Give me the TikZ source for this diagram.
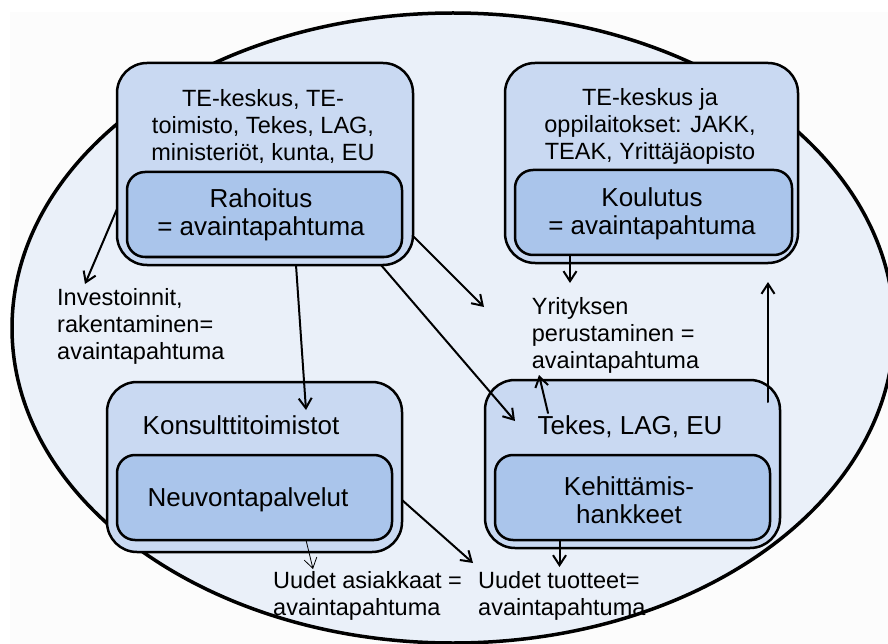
\documentclass[tikz,border=0pt]{standalone}
\usepackage{fontspec}
\setmainfont{Liberation Sans}
\usetikzlibrary{arrows.meta}
\definecolor{tausta}{RGB}{252,252,252}
\definecolor{soikio}{RGB}{234,240,249}
\definecolor{ulko}{RGB}{201,217,242}
\definecolor{sisa}{RGB}{170,197,235}
\begin{document}
\begin{tikzpicture}[x=1pt,y=-1pt,>={Straight Barb[length=10pt,width=13pt]},line join=round,line cap=round,
	ulkolaatikko/.style={draw,line width=2.5pt,fill=ulko,rounded corners=30pt,inner sep=0pt,outer sep=0pt},
	sisalaatikko/.style={draw,line width=2.5pt,fill=sisa,rounded corners=18pt,inner sep=0pt,outer sep=0pt},
	pieni/.style={font=\fontsize{23.5}{27}\selectfont,inner sep=0pt},
	iso/.style={font=\fontsize{26}{28}\selectfont,inner sep=0pt},
	nuoli/.style={->,line width=2pt}]
	\useasboundingbox (0,0) rectangle (888,644);
	\fill[tausta] (10,12) rectangle (888,644);
	\draw[line width=3.5pt,fill=soikio] (453,328) ellipse [x radius=441pt,y radius=315pt];
	% laatikot
	\node[ulkolaatikko,minimum width=296pt,minimum height=202pt] (rahoittajat) at (265,164) {};
	\node[sisalaatikko,minimum width=275pt,minimum height=85pt] (rahoitus) at (264.5,214.5) {};
	\node[ulkolaatikko,minimum width=293pt,minimum height=200pt] (oppilaitokset) at (651.5,163) {};
	\node[sisalaatikko,minimum width=277pt,minimum height=85pt] (koulutus) at (653.5,212.5) {};
	\node[ulkolaatikko,minimum width=295pt,minimum height=170pt] (konsultit) at (254.5,467) {};
	\node[sisalaatikko,minimum width=275pt,minimum height=85pt] (neuvonta) at (254.5,497.5) {};
	\node[ulkolaatikko,minimum width=295pt,minimum height=168pt] (tekes) at (632.5,464) {};
	\node[sisalaatikko,minimum width=275pt,minimum height=85pt] (kehitys) at (632.5,497.5) {};
	% tekstit
	\node[pieni,align=center] (rahoittajat-t) at (263,126.5) {TE-keskus, TE-\\toimisto, Tekes, LAG,\\ministeriöt, kunta, EU};
	\node[iso,align=center] (rahoitus-t) at (261,215) {Rahoitus\\= avaintapahtuma};
	\node[pieni,align=center] (oppilaitokset-t) at (650,126.5) {TE-keskus ja\\oppilaitokset: JAKK,\\TEAK, Yrittäjäopisto};
	\node[iso,align=center] (koulutus-t) at (652,214) {Koulutus\\= avaintapahtuma};
	\node[iso,anchor=base] (konsultit-t) at (241,434) {Konsulttitoimistot};
	\node[iso,anchor=base] (neuvonta-t) at (248,506.7) {Neuvontapalvelut};
	\node[iso,anchor=base] (tekes-t) at (630,434) {Tekes, LAG, EU};
	\node[iso,align=center] (kehitys-t) at (629,500) {Kehittämis-\\hankkeet};
	\node[pieni,align=left,anchor=west] (investoinnit) at (57,326) {Investoinnit,\\rakentaminen=\\avaintapahtuma};
	\node[pieni,align=left,anchor=west] (yritys) at (531.7,335) {Yrityksen\\perustaminen =\\avaintapahtuma};
	\node[pieni,align=left,anchor=west] (asiakkaat) at (273,595.5) {Uudet asiakkaat =\\avaintapahtuma};
	\node[pieni,align=left,anchor=west] (tuotteet) at (478,595.5) {Uudet tuotteet=\\avaintapahtuma};
	% nuolet
	\coordinate (invkarki) at (85,284);
	\coordinate (yrkarki) at (484,307);
	\coordinate (koulkarki) at (570,283);
	\coordinate (yrkarki2) at (539,375);
	\coordinate (koulalla) at (768,282);
	\coordinate (askarki) at (313,569);
	\coordinate (tuotkarki) at (473,563);
	\coordinate (tuotkarki2) at (559.5,567);
	\draw[nuoli] ([yshift=-45pt]rahoittajat.west) -- (invkarki);
	\draw[nuoli] ([xshift=31pt]rahoittajat.south) -- ([shift={(51.5pt,-28pt)}]konsultit.north);
	\draw[nuoli] ([yshift=-72pt]rahoittajat.east) -- (yrkarki);
	\draw[nuoli] ([xshift=-32pt]rahoittajat.south east) -- ([shift={(30pt,-41pt)}]tekes.north west);
	\draw[nuoli] ([xshift=-83.5pt]koulutus.south) -- (koulkarki);
	\draw[nuoli] ([shift={(-84.5pt,-33pt)}]tekes.north) -- (yrkarki2);
	\draw[nuoli] ([shift={(-12pt,-22pt)}]tekes.north east) -- (koulalla);
	\draw[->,line width=0.8pt] ([xshift=51.5pt]neuvonta.south) -- (askarki);
	\draw[nuoli] ([yshift=-33pt]konsultit.east) -- (tuotkarki);
	\draw[nuoli] ([xshift=-73pt]kehitys.south) -- (tuotkarki2);
\end{tikzpicture}
\end{document}
